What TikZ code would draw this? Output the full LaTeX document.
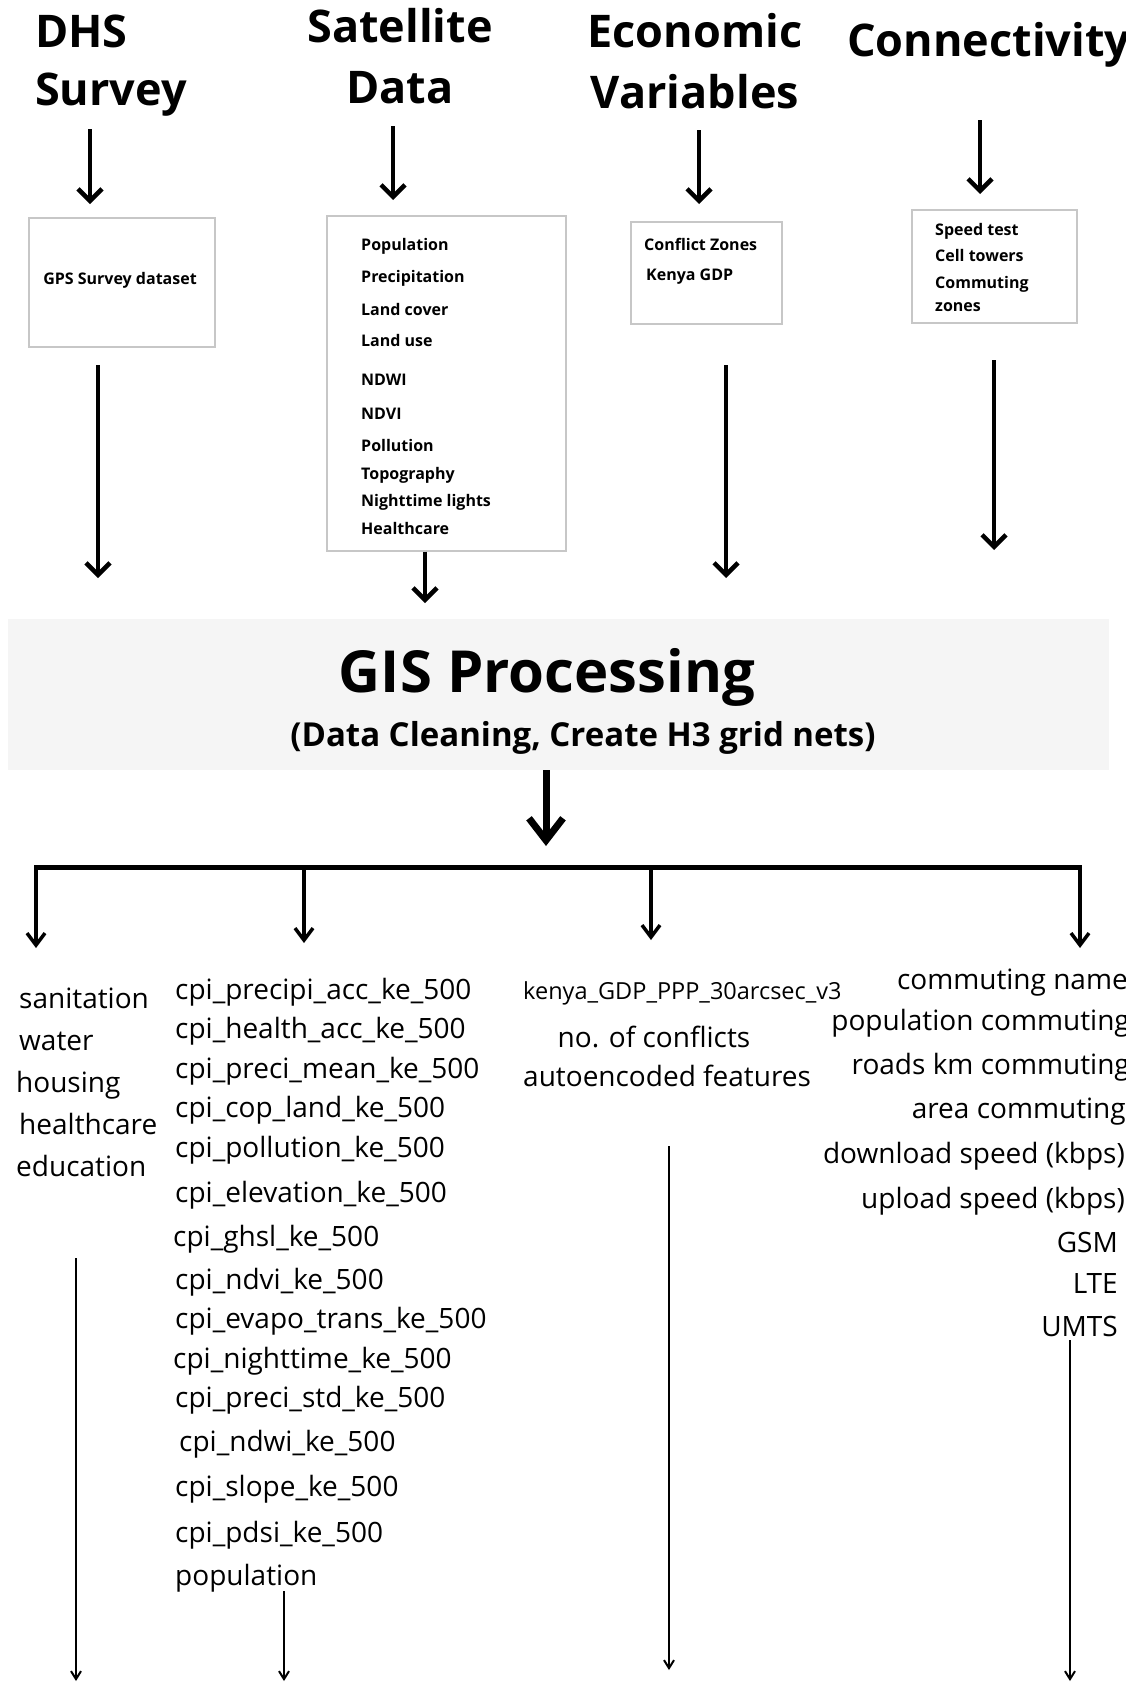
\documentclass[tikz,border=0pt]{standalone}
\usepackage{fontspec}
\setmainfont{Open Sans}
\usetikzlibrary{arrows.meta}

\begin{document}
\begin{tikzpicture}[x=1pt,y=-1pt,
  head/.style={font=\fontsize{45}{53}\selectfont\bfseries,inner sep=0},
  databox/.style={draw=black!22,line width=1.2,inner sep=0},
  boxitem/.style={font=\fontsize{16}{19}\selectfont\bfseries,inner sep=0,anchor=mid west,yshift=-4.5},
  listitem/.style={font=\fontsize{28}{32}\selectfont,inner sep=0,anchor=mid west,yshift=-8},
  bigarr/.style={line width=4.5,-{Straight Barb[length=12,width=24]}},
  hugearr/.style={line width=7,-{Straight Barb[length=22,width=34]}},
  midarr/.style={line width=3.5,-{Straight Barb[length=12,width=18]}},
  thinarr/.style={line width=2,-{Straight Barb[length=8,width=10]}}]
\useasboundingbox (0,0) rectangle (1125,1684);

% sources
\node[head,anchor=base west] (dhs1) at (35,47) {DHS};
\node[head,anchor=base west] (dhs2) at (35,105) {Survey};
\node[head,anchor=base] (sat1) at (400,42) {Satellite};
\node[head,anchor=base] (sat2) at (400,103) {Data};
\node[head,anchor=base] (eco1) at (695,47) {Economic};
\node[head,anchor=base] (eco2) at (695,108) {Variables};
\node[head,anchor=base west] (con1) at (847,56) {Connectivity};

\coordinate (dhsA) at (90,129);  \coordinate (dhsB) at (90,204);
\coordinate (satA) at (393,126); \coordinate (satB) at (393,200);
\coordinate (ecoA) at (699,130); \coordinate (ecoB) at (699,204);
\coordinate (conA) at (980,120); \coordinate (conB) at (980,194);
\draw[bigarr] (dhsA) -- (dhsB);
\draw[bigarr] (satA) -- (satB);
\draw[bigarr] (ecoA) -- (ecoB);
\draw[bigarr] (conA) -- (conB);

% data boxes
\node[databox,minimum width=186,minimum height=129] (gpsbox) at (122,282.5) {};
\node[boxitem,anchor=mid] (gps) at (120,277) {GPS Survey dataset};

\node[databox,minimum width=239,minimum height=335] (satbox) at (446.5,383.5) {};
\foreach \txt/\yy [count=\i] in {Population/243,Precipitation/275,Land cover/308,
    Land use/339,NDWI/378,NDVI/412,Pollution/444,Topography/472,
    Nighttime lights/499,Healthcare/527}
  \node[boxitem] (sat-\i) at (361,\yy) {\txt};

\node[databox,minimum width=151,minimum height=102] (ecobox) at (706.5,273) {};
\node[boxitem] (eco-1) at (644,243) {Conflict Zones};
\node[boxitem] (eco-2) at (646,273) {Kenya GDP};

\node[databox,minimum width=165,minimum height=113] (conbox) at (994.5,266.5) {};
\foreach \txt/\yy [count=\i] in {Speed test/228,Cell towers/254,Commuting/281,zones/304}
  \node[boxitem] (con-\i) at (935,\yy) {\txt};

\coordinate (dhsC) at (98,365);  \coordinate (dhsD) at (98,578);
\coordinate (satD) at (425,603);
\coordinate (ecoC) at (726,365); \coordinate (ecoD) at (726,578);
\coordinate (conC) at (994,360); \coordinate (conD) at (994,550);
\draw[bigarr] (dhsC) -- (dhsD);
\draw[bigarr] (satbox.south -| satD) -- (satD);
\draw[bigarr] (ecoC) -- (ecoD);
\draw[bigarr] (conC) -- (conD);

% GIS step
\node[fill=black!4,minimum width=1101,minimum height=151,inner sep=0] (gis) at (558.5,694.5) {};
\node[font=\fontsize{58}{60}\selectfont\bfseries,inner sep=0,anchor=base] (gis-t) at (547,692) {GIS Processing};
\node[font=\fontsize{33}{36}\selectfont\bfseries,inner sep=0,anchor=base] (gis-s) at (583,746) {(Data Cleaning, Create H3 grid nets)};

\coordinate (gisD) at (546,846);
\draw[hugearr] (gis.south -| gisD) -- (gisD);

\coordinate (barL) at (34,867); \coordinate (barR) at (1082,867);
\draw[line width=5] (barL) -- (barR);
\foreach \bx/\by [count=\i] in {36/948,304/943,651/940,1080/948} {
  \coordinate (br\i) at (\bx,\by);
  \draw[midarr] (br\i |- barL) -- (br\i);
}

% features
\foreach \txt/\xx/\yy [count=\i] in {sanitation/19/998,water/19/1040,housing/16/1082,
    healthcare/19/1124,education/16/1166}
  \node[listitem] (dhsf-\i) at (\xx,\yy) {\txt};

\foreach \txt/\xx/\yy [count=\i] in {cpi\_precipi\_acc\_ke\_500/175/989,
    cpi\_health\_acc\_ke\_500/175/1028,cpi\_preci\_mean\_ke\_500/175/1068,
    cpi\_cop\_land\_ke\_500/175/1107,cpi\_pollution\_ke\_500/175/1147,
    cpi\_elevation\_ke\_500/175/1192,cpi\_ghsl\_ke\_500/173/1236,
    cpi\_ndvi\_ke\_500/175/1279,cpi\_evapo\_trans\_ke\_500/175/1318,
    cpi\_nighttime\_ke\_500/173/1358,cpi\_preci\_std\_ke\_500/175/1397,
    cpi\_ndwi\_ke\_500/179/1441,cpi\_slope\_ke\_500/175/1486,
    cpi\_pdsi\_ke\_500/175/1532,population/175/1575}
  \node[listitem] (satf-\i) at (\xx,\yy) {\txt};

\node[listitem,font=\fontsize{23.5}{28}\selectfont] (ecof-1) at (523,989) {kenya\_GDP\_PPP\_30arcsec\_v3};
\node[listitem,anchor=mid] (ecof-2) at (654,1037) {no. of conflicts};
\node[listitem] (ecof-3) at (523,1076) {autoencoded features};

\foreach \txt/\xx/\yy [count=\i] in {commuting name/1128/979,population commuting/1130/1020,
    roads km commuting/1130/1064,area commuting/1126/1108,download speed (kbps)/1125/1153,
    upload speed (kbps)/1125/1198,GSM/1118/1242,LTE/1118/1283,UMTS/1118/1326}
  \node[listitem,anchor=mid east] (conf-\i) at (\xx,\yy) {\txt};

\coordinate (f1A) at (76,1258);   \coordinate (f1B) at (76,1681);
\coordinate (f2A) at (284,1591);  \coordinate (f2B) at (284,1681);
\coordinate (f3A) at (669,1146);  \coordinate (f3B) at (669,1670);
\coordinate (f4A) at (1070,1340); \coordinate (f4B) at (1070,1681);
\draw[thinarr] (f1A) -- (f1B);
\draw[thinarr] (f2A) -- (f2B);
\draw[thinarr] (f3A) -- (f3B);
\draw[thinarr] (f4A) -- (f4B);
\end{tikzpicture}
\end{document}
